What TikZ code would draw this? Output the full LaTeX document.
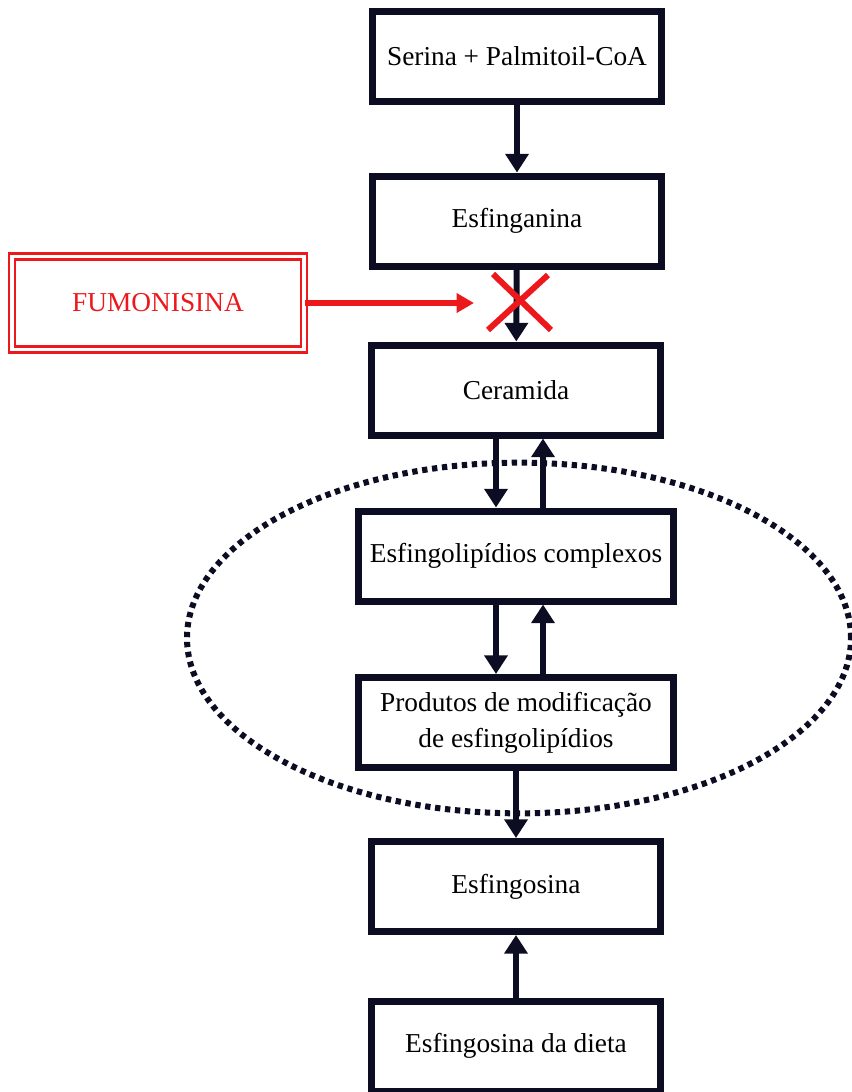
\documentclass[tikz,border=0pt]{standalone}
\usepackage{fontspec}
\setmainfont{Liberation Serif}
\usetikzlibrary{arrows.meta}
\definecolor{ink}{RGB}{12,12,34}
\definecolor{alert}{RGB}{236,24,28}

\begin{document}
\begin{tikzpicture}[x=0.75pt,y=-0.75pt,
  box/.style={draw=ink,line width=5.25pt,fill=white,minimum width=217pt,minimum height=67.5pt,inner sep=0pt,align=center,font=\fontsize{20.5}{27}\selectfont},
  widebox/.style={box,minimum width=236pt},
  toxin/.style={draw=alert,double,double distance=2.4pt,line width=2pt,text=alert,minimum width=219pt,minimum height=70pt,font=\fontsize{20.5}{27}\selectfont},
  flow/.style={draw=ink,line width=4.5pt,-{Triangle[width=17pt,length=14pt]}},
  block/.style={draw=alert,line width=4pt,-{Triangle[width=14pt,length=13pt]}},
  cross/.style={draw=alert,line width=4.5pt},
  group/.style={draw=ink,line width=4.5pt,dash pattern=on 4pt off 3.5pt}]
\useasboundingbox (0,0) rectangle (852,1092);
%% group
\draw[group] (519,638) ellipse [x radius=249pt, y radius=131.5pt];
%% nodes
\node[box] (ser) at (517,56.5) {Serina + Palmitoil-CoA};
\node[box] (esg) at (517,221) {Esfinganina};
\node[box] (cer) at (516,390) {Ceramida};
\node[widebox] (cpx) at (516,556) {Esfingolipídios complexos};
\node[widebox] (prd) at (516,722.5) {Produtos de modificação\\de esfingolipídios};
\node[box] (esf) at (516,886.5) {Esfingosina};
\node[box] (die) at (516,1046) {Esfingosina da dieta};
\node[toxin] (fum) at (158,303) {FUMONISINA};
\coordinate (hit) at (474,303);
\coordinate (blk) at (520,302);
%%% edges
\draw[flow] (ser) -- (esg);
\draw[flow] (esg) -- (cer);
\draw[flow] ([xshift=-15pt]cer.south) -- ([xshift=-15pt]cpx.north);
\draw[flow] ([xshift=20.25pt]cpx.north) -- ([xshift=20.25pt]cer.south);
\draw[flow] ([xshift=-15pt]cpx.south) -- ([xshift=-15pt]prd.north);
\draw[flow] ([xshift=20.25pt]prd.north) -- ([xshift=20.25pt]cpx.south);
\draw[flow] (prd) -- (esf);
\draw[flow] (die) -- (esf);
%%% block
\draw[block] (fum) -- (hit);
\draw[cross] ([shift={(-27,-28)}]blk) -- ([shift={(31,28)}]blk);
\draw[cross] ([shift={(28,-27)}]blk) -- ([shift={(-32,28)}]blk);
\end{tikzpicture}
\end{document}
